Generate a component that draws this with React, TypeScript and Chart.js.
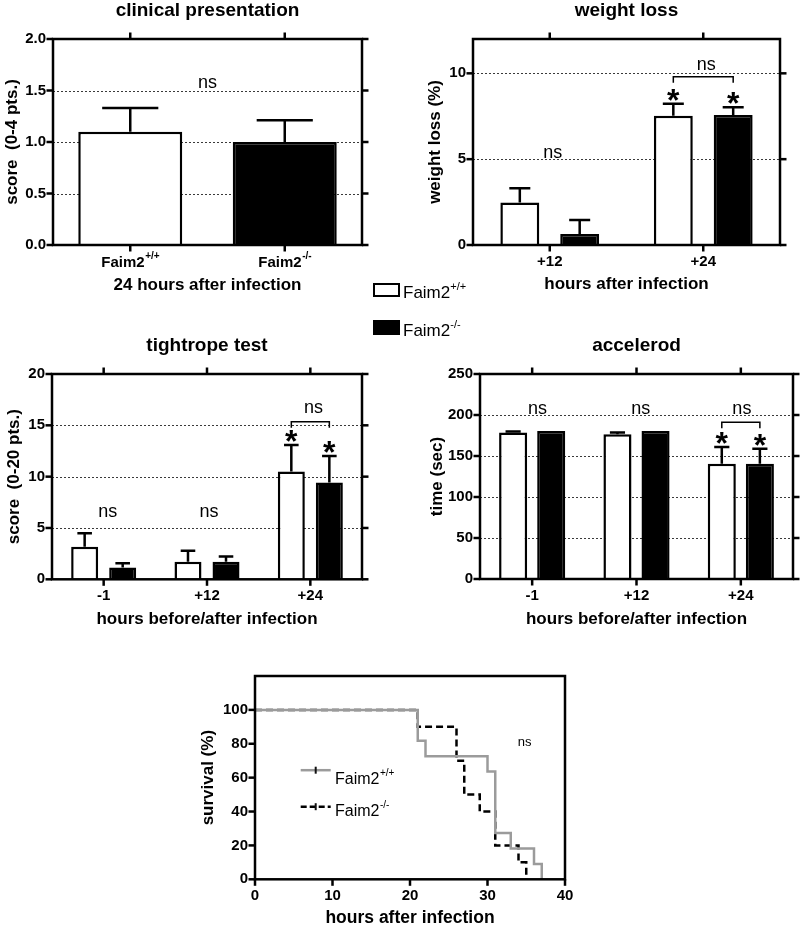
import React, { useEffect, useRef } from 'react';
import { Chart, registerables } from 'chart.js';
Chart.register(...registerables);

const FAMILY = '"Liberation Sans", Arial, Helvetica, sans-serif';
Chart.defaults.font.family = FAMILY;
Chart.defaults.color = '#000';

// ---------------- data ----------------
const clinicalCategories = ['Faim2+/+', 'Faim2-/-'];
const clinicalMean = [1.1, 1.0];
const clinicalSem = [0.23, 0.21];

const weightCategories = ['+12', '+24'];
const weightWT = [2.47, 7.53];
const weightWTErr = [0.84, 0.7];
const weightKO = [0.64, 7.58];
const weightKOErr = [0.82, 0.45];

const hourCategories = ['-1', '+12', '+24'];
const tightWT = [3.18, 1.72, 10.49];
const tightWTErr = [1.3, 1.07, 2.59];
const tightKO = [1.14, 1.72, 9.42];
const tightKOErr = [0.42, 0.49, 2.59];

const accelWT = [178.6, 176.5, 140.4];
const accelWTErr = [1.2, 2.1, 20.7];
const accelKO = [180.6, 180.6, 140.4];
const accelKOErr = [0, 0, 18.3];

const survHoursWT = [0, 21, 22, 30, 31, 33, 36, 37];
const survWT = [100, 81.8, 72.7, 63.6, 27.3, 18.2, 9.1, 0];
const survHoursKO = [0, 21, 26, 27, 29, 31, 34, 35];
const survKO = [100, 90, 70, 50, 40, 20, 10, 0];

const groupLabels = ['Faim2+/+', 'Faim2-/-'];

// significance annotations (data units)
const clinicalNs = [{ x: 0.5, y: 1.57 }];
const weightNs = [{ x: 0.02, y: 5.35 }, { x: 1.02, y: 10.46 }];
const weightBrackets = [{ cat: 1, y: 9.8 }];
const weightStars = [{ cat: 1, ds: 0 }, { cat: 1, ds: 1 }];
const tightNs = [{ x: 0.04, y: 6.55 }, { x: 1.02, y: 6.55 }, { x: 2.03, y: 16.7 }];
const tightBrackets = [{ cat: 2, y: 15.35 }];
const tightStars = [{ cat: 2, ds: 0 }, { cat: 2, ds: 1 }];
const accelNs = [{ x: 0.05, y: 207 }, { x: 1.04, y: 207 }, { x: 2.01, y: 207 }];
const accelBrackets = [{ cat: 2, y: 191.2 }];
const accelStars = [{ cat: 2, ds: 0 }, { cat: 2, ds: 1 }];
const survivalNs = [{ x: 34.8, y: 80.7 }];

// ---------------- helpers ----------------
function splitSup(s: string): [string, string] {
  const m = s.match(/^(.*?\d)([+\-]\/[+\-])$/);
  return m ? [m[1], m[2]] : [s, ''];
}

function drawRich(ctx: CanvasRenderingContext2D, text: string, x: number, y: number, size: number, weight: string, align: 'left' | 'center') {
  const [base, sup] = splitSup(text);
  const supSize = Math.round(size * 0.65);
  const f1 = `${weight} ${size}px ${FAMILY}`;
  const f2 = `${weight} ${supSize}px ${FAMILY}`;
  ctx.font = f1;
  const w1 = ctx.measureText(base).width;
  ctx.font = f2;
  const w2 = ctx.measureText(sup).width;
  const x0 = align === 'center' ? x - (w1 + w2) / 2 : x;
  ctx.textAlign = 'left';
  ctx.textBaseline = 'alphabetic';
  ctx.font = f1;
  ctx.fillText(base, x0, y);
  ctx.font = f2;
  ctx.fillText(sup, x0 + w1 + 0.5, y - size * 0.5);
}

function seg(ctx: CanvasRenderingContext2D, x1: number, y1: number, x2: number, y2: number) {
  ctx.beginPath();
  ctx.moveTo(x1, y1);
  ctx.lineTo(x2, y2);
  ctx.stroke();
}

const TL = 6.5;
const AXIS_T = 17;

type Series = { label: string; values: number[]; errors: number[]; color: string | string[] };
type BarSpec = {
  box: [number, number, number, number];
  area: [number, number, number, number];
  title: string; titleBase: number;
  yTitle: string; yTitleX: number;
  xTitle: string; xTitleY: number;
  categories: string[]; series: Series[];
  yMax: number; yStep: number; yDecimals: number;
  catPct: number; barPct: number; richX?: boolean;
  ns: { x: number; y: number }[];
  brackets: { cat: number; y: number }[];
  stars: { cat: number; ds: number }[];
};

function barDecor(s: BarSpec) {
  return {
    id: 'decor',
    beforeDatasetsDraw(chart: any) {
      const { ctx, chartArea: a } = chart;
      const ys = chart.scales.y;
      ctx.save();
      ctx.strokeStyle = '#3a3a3a';
      ctx.lineWidth = 1;
      ctx.setLineDash([2, 2]);
      ys.ticks.forEach((tk: any) => {
        if (tk.value <= ys.min || tk.value >= ys.max) return;
        const py = Math.round(ys.getPixelForValue(tk.value)) + 0.5;
        seg(ctx, a.left, py, a.right, py);
      });
      ctx.restore();
    },
    afterDatasetsDraw(chart: any) {
      const { ctx, chartArea: a } = chart;
      const xs = chart.scales.x;
      const ys = chart.scales.y;
      ctx.save();
      ctx.strokeStyle = '#000';
      ctx.fillStyle = '#000';
      ctx.lineWidth = 2.5;
      // error bars
      s.series.forEach((se, di) => {
        chart.getDatasetMeta(di).data.forEach((el: any, i: number) => {
          const e = se.errors[i];
          if (!e) return;
          const y1 = ys.getPixelForValue(se.values[i] + e);
          const hw = el.width * 0.27;
          ctx.beginPath();
          ctx.moveTo(el.x, el.y);
          ctx.lineTo(el.x, y1);
          ctx.moveTo(el.x - hw, y1);
          ctx.lineTo(el.x + hw, y1);
          ctx.stroke();
        });
      });
      // frame
      ctx.strokeRect(a.left, a.top, a.right - a.left, a.bottom - a.top);
      // tick marks
      ys.ticks.forEach((tk: any) => {
        const py = ys.getPixelForValue(tk.value);
        seg(ctx, a.left - TL, py, a.left, py);
        seg(ctx, a.right, py, a.right + TL, py);
      });
      s.categories.forEach((_, i) => {
        const px = xs.getPixelForValue(i);
        seg(ctx, px, a.bottom, px, a.bottom + TL);
        seg(ctx, px, a.top - TL, px, a.top);
      });
      // rich category labels
      if (s.richX) {
        s.categories.forEach((c, i) => {
          drawRich(ctx, c, xs.getPixelForValue(i), a.bottom + 21.7, 15, 'bold', 'center');
        });
      }
      // brackets
      ctx.lineWidth = 1.5;
      s.brackets.forEach((bk) => {
        const x0 = chart.getDatasetMeta(0).data[bk.cat].x;
        const x1 = chart.getDatasetMeta(1).data[bk.cat].x;
        const py = ys.getPixelForValue(bk.y);
        ctx.beginPath();
        ctx.moveTo(x0, py + 6);
        ctx.lineTo(x0, py);
        ctx.lineTo(x1, py);
        ctx.lineTo(x1, py + 6);
        ctx.stroke();
      });
      // ns labels
      ctx.font = `18px ${FAMILY}`;
      ctx.textAlign = 'center';
      ctx.textBaseline = 'middle';
      s.ns.forEach((n) => ctx.fillText('ns', xs.getPixelForValue(n.x), ys.getPixelForValue(n.y)));
      // stars
      ctx.font = `bold 32px ${FAMILY}`;
      ctx.textBaseline = 'alphabetic';
      const m = ctx.measureText('*');
      const half = (m.actualBoundingBoxAscent - m.actualBoundingBoxDescent) / 2;
      s.stars.forEach((st) => {
        const se = s.series[st.ds];
        const el = chart.getDatasetMeta(st.ds).data[st.cat];
        const top = ys.getPixelForValue(se.values[st.cat] + (se.errors[st.cat] || 0));
        ctx.fillText('*', el.x, top - 9 + half);
      });
      // title
      ctx.font = `bold 19px ${FAMILY}`;
      ctx.textAlign = 'center';
      ctx.textBaseline = 'alphabetic';
      ctx.fillText(s.title, (a.left + a.right) / 2, s.titleBase - s.box[1]);
      ctx.restore();
    },
  };
}

function barConfig(s: BarSpec): any {
  const [bx, by, bw, bh] = s.box;
  const l = s.area[0] - bx, t = s.area[1] - by, r = s.area[2] - bx, b = s.area[3] - by;
  const padLeft = s.yTitleX - bx - AXIS_T / 2;
  const yWidth = l - padLeft;
  const padBottom = bh - (s.xTitleY - by) - AXIS_T / 2;
  const xHeight = bh - padBottom - b;
  const titleFont = { size: AXIS_T, weight: 'bold', lineHeight: 1 };
  return {
    type: 'bar',
    data: {
      labels: s.categories,
      datasets: s.series.map((se) => ({
        label: se.label,
        data: se.values,
        backgroundColor: se.color,
        borderColor: '#000',
        borderWidth: 2.5,
        categoryPercentage: s.catPct,
        barPercentage: s.barPct,
      })),
    },
    options: {
      responsive: false,
      animation: false,
      devicePixelRatio: 1,
      layout: { padding: { left: padLeft, top: t, right: bw - r, bottom: padBottom } },
      plugins: { legend: { display: false }, tooltip: { enabled: false } },
      scales: {
        x: {
          grid: { display: false, drawTicks: false },
          border: { display: false },
          ticks: { display: !s.richX, font: { size: 15, weight: 'bold' }, padding: 7.5, color: '#000' },
          title: { display: true, text: s.xTitle, font: titleFont, padding: 0, color: '#000' },
          afterFit: (sc: any) => { sc.height = xHeight; },
        },
        y: {
          min: 0,
          max: s.yMax,
          grid: { display: false, drawTicks: false },
          border: { display: false },
          ticks: {
            stepSize: s.yStep,
            font: { size: 15, weight: 'bold' },
            padding: 7,
            color: '#000',
            callback: (v: any) => Number(v).toFixed(s.yDecimals),
          },
          afterBuildTicks: (sc: any) => {
            sc.ticks = sc.ticks.filter((tk: any) => Math.abs(tk.value / s.yStep - Math.round(tk.value / s.yStep)) < 1e-6);
          },
          title: { display: true, text: s.yTitle, font: titleFont, padding: 0, color: '#000' },
          afterFit: (sc: any) => { sc.width = yWidth; },
        },
      },
    },
    plugins: [barDecor(s)],
  };
}

const clinicalSpec: BarSpec = {
  box: [0, 0, 400, 300], area: [53, 39, 362, 245],
  title: 'clinical presentation', titleBase: 15.5,
  yTitle: 'score  (0-4 pts.)', yTitleX: 12.4,
  xTitle: '24 hours after infection', xTitleY: 285,
  categories: clinicalCategories,
  series: [{ label: 'score', values: clinicalMean, errors: clinicalSem, color: ['#ffffff', '#000000'] }],
  yMax: 2, yStep: 0.5, yDecimals: 1, catPct: 1, barPct: 0.673, richX: true,
  ns: clinicalNs, brackets: [], stars: [],
};

const weightSpec: BarSpec = {
  box: [400, 0, 400, 300], area: [473, 39, 780, 245],
  title: 'weight loss', titleBase: 15.5,
  yTitle: 'weight loss (%)', yTitleX: 435.5,
  xTitle: 'hours after infection', xTitleY: 284.5,
  categories: weightCategories,
  series: [
    { label: groupLabels[0], values: weightWT, errors: weightWTErr, color: '#ffffff' },
    { label: groupLabels[1], values: weightKO, errors: weightKOErr, color: '#000000' },
  ],
  yMax: 12, yStep: 5, yDecimals: 0, catPct: 0.78, barPct: 0.65,
  ns: weightNs, brackets: weightBrackets, stars: weightStars,
};

const tightSpec: BarSpec = {
  box: [0, 300, 400, 335], area: [52, 374, 362, 579.3],
  title: 'tightrope test', titleBase: 350.5,
  yTitle: 'score  (0-20 pts.)', yTitleX: 14,
  xTitle: 'hours before/after infection', xTitleY: 619.5,
  categories: hourCategories,
  series: [
    { label: groupLabels[0], values: tightWT, errors: tightWTErr, color: '#ffffff' },
    { label: groupLabels[1], values: tightKO, errors: tightKOErr, color: '#000000' },
  ],
  yMax: 20, yStep: 5, yDecimals: 0, catPct: 0.736, barPct: 0.71,
  ns: tightNs, brackets: tightBrackets, stars: tightStars,
};

const accelSpec: BarSpec = {
  box: [400, 300, 400, 335], area: [480, 374, 793, 579],
  title: 'accelerod', titleBase: 351,
  yTitle: 'time (sec)', yTitleX: 437,
  xTitle: 'hours before/after infection', xTitleY: 619.5,
  categories: hourCategories,
  series: [
    { label: groupLabels[0], values: accelWT, errors: accelWTErr, color: '#ffffff' },
    { label: groupLabels[1], values: accelKO, errors: accelKOErr, color: '#000000' },
  ],
  yMax: 250, yStep: 50, yDecimals: 0, catPct: 0.73, barPct: 0.737,
  ns: accelNs, brackets: accelBrackets, stars: accelStars,
};

// ---------------- survival ----------------
const survBox: [number, number, number, number] = [180, 660, 420, 267];
const survArea = [255, 673.3, 565, 879.3];

function survivalConfig(): any {
  const [bx, by, bw, bh] = survBox;
  const l = survArea[0] - bx, t = survArea[1] - by, r = survArea[2] - bx, b = survArea[3] - by;
  const yT = 17, xT = 17.5;
  const padLeft = 208.8 - bx - yT / 2;
  const yWidth = l - padLeft;
  const padBottom = Math.max(0, bh - (918 - by) - xT / 2);
  const xHeight = bh - padBottom - b;
  const decor = {
    id: 'survdecor',
    afterDatasetsDraw(chart: any) {
      const { ctx, chartArea: a } = chart;
      const xs = chart.scales.x, ys = chart.scales.y;
      ctx.save();
      ctx.strokeStyle = '#000';
      ctx.fillStyle = '#000';
      ctx.lineWidth = 2.5;
      ctx.strokeRect(a.left, a.top, a.right - a.left, a.bottom - a.top);
      ys.ticks.forEach((tk: any) => {
        const py = ys.getPixelForValue(tk.value);
        seg(ctx, a.left - TL, py, a.left, py);
      });
      xs.ticks.forEach((tk: any) => {
        const px = xs.getPixelForValue(tk.value);
        seg(ctx, px, a.bottom, px, a.bottom + TL);
      });
      // ns
      ctx.font = `13px ${FAMILY}`;
      ctx.textAlign = 'center';
      ctx.textBaseline = 'middle';
      survivalNs.forEach((n) => ctx.fillText('ns', xs.getPixelForValue(n.x), ys.getPixelForValue(n.y)));
      // legend
      const items = [
        { label: groupLabels[0], color: '#9b9b9b', dash: [] as number[], ly: 94.2, tb: 108.2 },
        { label: groupLabels[1], color: '#000000', dash: [6, 3], ly: 130.7, tb: 140.2 },
      ];
      items.forEach((it) => {
        const x0 = a.left + 45.7, x1 = a.left + 75.7, y = a.top + it.ly;
        ctx.strokeStyle = it.color;
        ctx.lineWidth = 2.5;
        ctx.setLineDash(it.dash);
        seg(ctx, x0, y, x1, y);
        ctx.setLineDash([]);
        ctx.strokeStyle = '#111';
        ctx.lineWidth = 2;
        seg(ctx, (x0 + x1) / 2, y - 3.5, (x0 + x1) / 2, y + 3.5);
        ctx.fillStyle = '#000';
        drawRich(ctx, it.label, a.left + 80, a.top + it.tb, 16, 'normal', 'left');
      });
      ctx.restore();
    },
  };
  return {
    type: 'line',
    data: {
      datasets: [
        {
          label: groupLabels[0],
          data: survHoursWT.map((h, i) => ({ x: h, y: survWT[i] })),
          stepped: 'before',
          borderColor: '#9b9b9b',
          borderWidth: 2.5,
          pointRadius: 0,
          fill: false,
        },
        {
          label: groupLabels[1],
          data: survHoursKO.map((h, i) => ({ x: h, y: survKO[i] })),
          stepped: 'before',
          borderColor: '#000000',
          borderDash: [7, 4],
          borderWidth: 2.5,
          pointRadius: 0,
          fill: false,
        },
      ],
    },
    options: {
      responsive: false,
      animation: false,
      devicePixelRatio: 1,
      layout: { padding: { left: padLeft, top: t, right: bw - r, bottom: padBottom } },
      plugins: { legend: { display: false }, tooltip: { enabled: false } },
      scales: {
        x: {
          type: 'linear',
          min: 0,
          max: 40,
          grid: { display: false, drawTicks: false },
          border: { display: false },
          ticks: { stepSize: 10, font: { size: 15, weight: 'bold' }, padding: 7.5, color: '#000' },
          title: { display: true, text: 'hours after infection', font: { size: xT, weight: 'bold', lineHeight: 1 }, padding: 0, color: '#000' },
          afterFit: (sc: any) => { sc.height = xHeight; },
        },
        y: {
          type: 'linear',
          min: 0,
          max: 120,
          grid: { display: false, drawTicks: false },
          border: { display: false },
          ticks: { stepSize: 20, font: { size: 15, weight: 'bold' }, padding: 7, color: '#000' },
          afterBuildTicks: (sc: any) => { sc.ticks = sc.ticks.filter((tk: any) => tk.value <= 100); },
          title: { display: true, text: 'survival (%)', font: { size: yT, weight: 'bold', lineHeight: 1 }, padding: 0, color: '#000' },
          afterFit: (sc: any) => { sc.width = yWidth; },
        },
      },
    },
    plugins: [decor],
  };
}

function ChartCanvas({ box, make }: { box: [number, number, number, number]; make: () => any }) {
  const ref = useRef<HTMLCanvasElement>(null);
  useEffect(() => {
    const c = new Chart(ref.current as HTMLCanvasElement, make());
    return () => c.destroy();
  }, []);
  const [x, y, w, h] = box;
  return (
    <canvas
      ref={ref}
      width={w}
      height={h}
      style={{ position: 'absolute', left: x, top: y, width: w, height: h, display: 'block' }}
    />
  );
}

function LegendLabel({ text, left, top }: { text: string; left: number; top: number }) {
  const [base, sup] = splitSup(text);
  return (
    <div style={{ position: 'absolute', left, top, font: `17px ${FAMILY}`, lineHeight: '20px', whiteSpace: 'nowrap', color: '#000' }}>
      {base}
      <span style={{ fontSize: 11, position: 'relative', top: -8 }}>{sup}</span>
    </div>
  );
}

export default function App() {
  return (
    <div style={{ position: 'absolute', left: 0, top: 0, width: 800, height: 927, background: '#fff', overflow: 'hidden' }}>
      <ChartCanvas box={clinicalSpec.box} make={() => barConfig(clinicalSpec)} />
      <ChartCanvas box={weightSpec.box} make={() => barConfig(weightSpec)} />
      <ChartCanvas box={tightSpec.box} make={() => barConfig(tightSpec)} />
      <ChartCanvas box={accelSpec.box} make={() => barConfig(accelSpec)} />
      <ChartCanvas box={survBox} make={survivalConfig} />
      <div style={{ position: 'absolute', left: 373, top: 283, width: 27, height: 14, border: '2px solid #000', boxSizing: 'border-box', background: '#fff' }} />
      <LegendLabel text={groupLabels[0]} left={403} top={283} />
      <div style={{ position: 'absolute', left: 373, top: 320, width: 27, height: 15, background: '#000' }} />
      <LegendLabel text={groupLabels[1]} left={403} top={320.8} />
    </div>
  );
}
